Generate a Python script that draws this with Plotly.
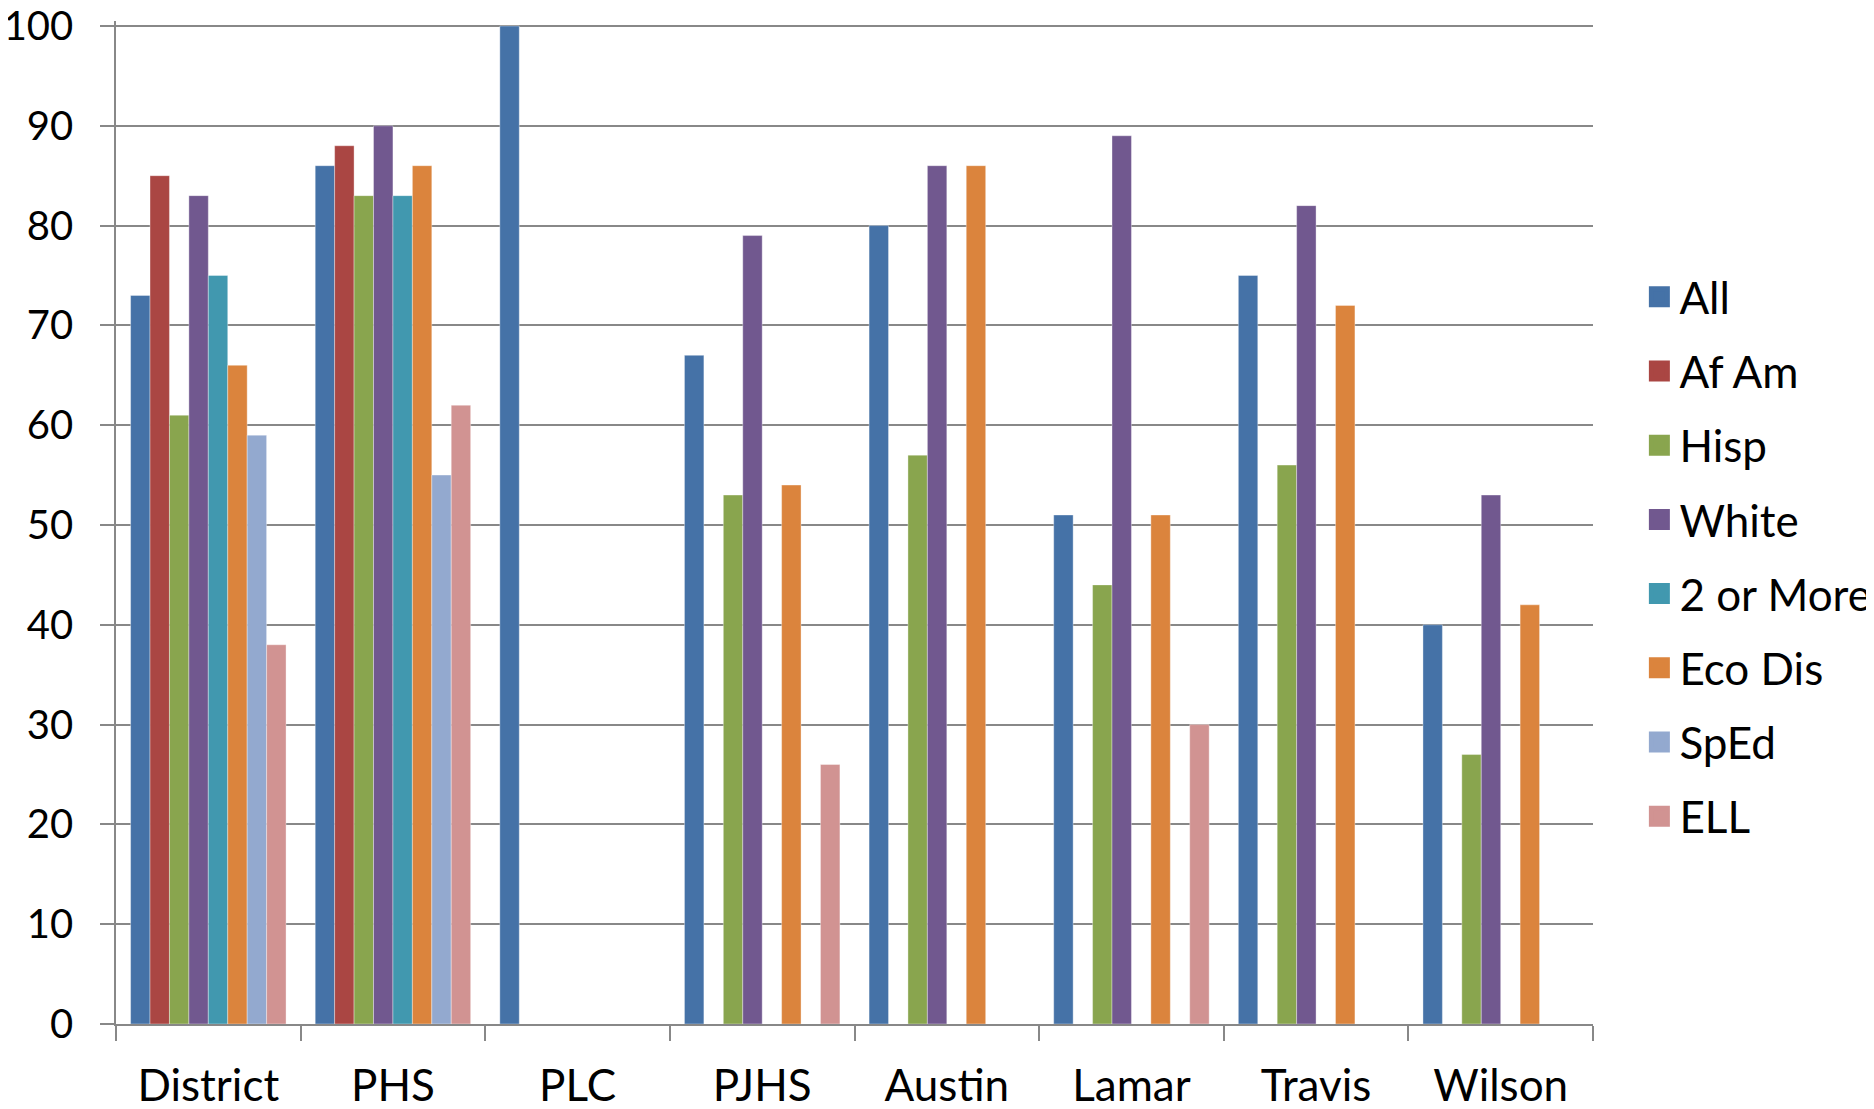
import plotly.graph_objects as go

categories = ["District", "PHS", "PLC", "PJHS", "Austin", "Lamar", "Travis", "Wilson"]

series_names = ["All", "Af Am", "Hisp", "White", "2 or More", "Eco Dis", "SpEd", "ELL"]

all_vals = [73, 86, 100, 67, 80, 51, 75, 40]
afam_vals = [85, 88, None, None, None, None, None, None]
hisp_vals = [61, 83, None, 53, 57, 44, 56, 27]
white_vals = [83, 90, None, 79, 86, 89, 82, 53]
two_more_vals = [75, 83, None, None, None, None, None, None]
ecodis_vals = [66, 86, None, 54, 86, 51, 72, 42]
sped_vals = [59, 55, None, None, None, None, None, None]
ell_vals = [38, 62, None, 26, None, 30, None, None]

series_values = [all_vals, afam_vals, hisp_vals, white_vals, two_more_vals,
                 ecodis_vals, sped_vals, ell_vals]

colors = ["#4572A7", "#AA4643", "#89A54E", "#71588F", "#4198AF", "#DB843D", "#93A9CF", "#D19392"]

y_ticks = [0, 10, 20, 30, 40, 50, 60, 70, 80, 90, 100]

FONT = "Lato"
FS = 44
GRID = "#888888"

fig = go.Figure()
for name, vals, col in zip(series_names, series_values, colors):
    fig.add_trace(go.Bar(
        x=categories, y=vals, name=name,
        marker=dict(color=col, line=dict(width=0.8, color="rgba(255,255,255,0.45)")),
        showlegend=False,
    ))

# legend proxies (larger square symbols like the reference)
for i, (name, col) in enumerate(zip(series_names, colors)):
    fig.add_trace(go.Scatter(
        x=[None], y=[None], mode="markers", name=name,
        marker=dict(symbol="square", size=16, color=col, line=dict(width=5, color=col)),
        legendgroup="g%d" % i, showlegend=True, hoverinfo="skip",
    ))

fig.update_layout(
    width=1874, height=1109,
    margin=dict(l=108, r=289, t=13, b=93, autoexpand=False),
    paper_bgcolor="white", plot_bgcolor="white",
    barmode="group", bargap=0.158, bargroupgap=0,
    font=dict(family=FONT, size=FS, color="black"),
    legend=dict(
        x=1.0314, y=0.76, xanchor="left", yanchor="top",
        font=dict(family=FONT, size=FS, color="black"),
        tracegroupgap=14, traceorder="grouped",
        bgcolor="rgba(0,0,0,0)",
    ),
    xaxis=dict(
        type="category", tickson="boundaries", ticks="outside", ticklen=15,
        tickcolor=GRID, tickwidth=1.5, showline=True, linecolor=GRID, linewidth=1.5,
        showgrid=False, ticklabelstandoff=22,
        tickfont=dict(family=FONT, size=FS, color="black"),
    ),
    yaxis=dict(
        range=[0, 100.5], tickvals=y_ticks, ticks="outside", ticklen=14,
        tickcolor=GRID, tickwidth=1.5, showline=True, linecolor=GRID, linewidth=1.5,
        showgrid=True, gridcolor=GRID, gridwidth=1.5, zeroline=False,
        ticklabelstandoff=19, ticklabeloverflow="allow",
        tickfont=dict(family=FONT, size=40, color="black"),
    ),
)

fig.write_html("out.html")
